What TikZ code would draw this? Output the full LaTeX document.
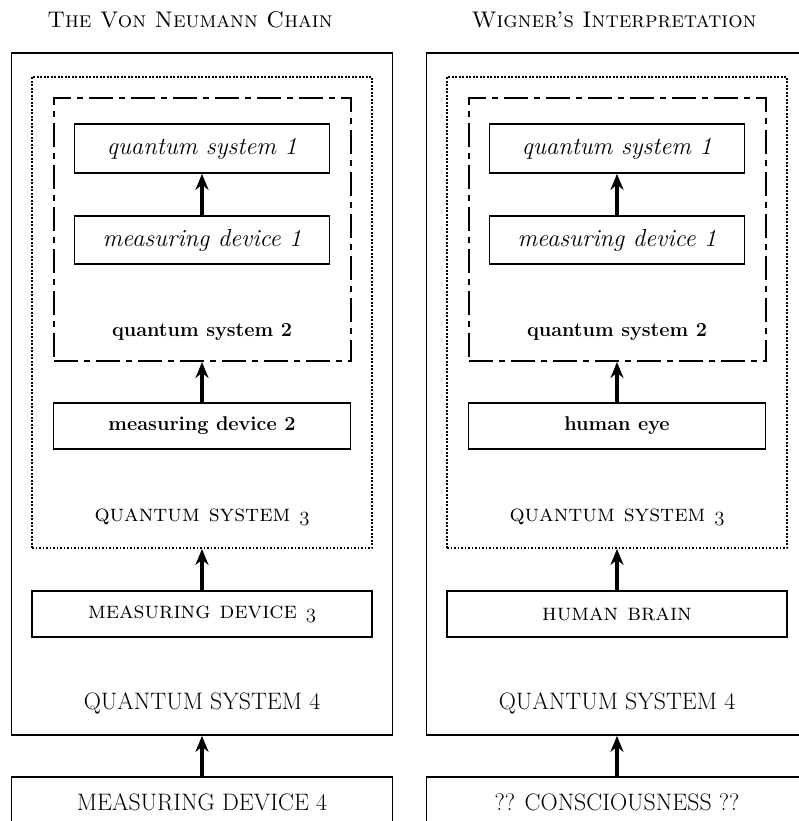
\documentclass[tikz,border=0pt]{standalone}
\usepackage{fontspec}
\usetikzlibrary{arrows.meta}

\newcommand{\oldthree}{{\fontsize{20}{24}\selectfont$\mathnormal{3}$}}

\tikzset{
  qbox/.style={draw, line width=1.7pt, inner sep=0pt},
  dashbox/.style={draw, line width=2pt, dash pattern=on 24pt off 6pt on 6pt off 6pt, inner sep=0pt},
  dotbox/.style={draw, line width=1.8pt, dash pattern=on 1.6pt off 1.9pt, inner sep=0pt},
  rise/.style={-{Stealth[length=16pt, width=13pt]}, line width=3.6pt},
  titlelabel/.style={font=\fontsize{22.6}{27}\selectfont\scshape, anchor=base},
  itlabel/.style={font=\fontsize{24.6}{28}\selectfont\itshape},
  bflabel/.style={font=\fontsize{19.9}{24}\selectfont\bfseries},
  sclabel/.style={font=\fontsize{23.8}{28}\selectfont\scshape},
  caplabel/.style={font=\fontsize{23.8}{28}\selectfont},
}

\begin{document}
\begin{tikzpicture}[x=1pt, y=-1pt]
    \useasboundingbox (0, 0) rectangle (798, 821);

    % titles
    \node[titlelabel] (ltitle) at (190, 28) {The Von Neumann Chain};
    \node[titlelabel] (rtitle) at (614, 28) {Wigner's Interpretation};

    % left: the chain
    \node[qbox, minimum width=381, minimum height=682] (lqs4) at (202, 394) {};
    \node[dotbox, minimum width=340, minimum height=471] (lqs3) at (202, 312.5) {};
    \node[dashbox, minimum width=297, minimum height=263] (lqs2) at (202, 229.5) {};
    \node[qbox, itlabel, minimum width=255, minimum height=49] (lqs1) at (202, 148.5) {quantum system 1};
    \node[qbox, itlabel, minimum width=255, minimum height=48] (lmd1) at (202, 240) {measuring device 1};
    \node[bflabel] (lqs2text) at (202, 332) {quantum system 2};
    \node[qbox, bflabel, minimum width=297, minimum height=46] (lmd2) at (202, 426) {measuring device 2};
    \node[sclabel] (lqs3text) at (202, 517) {quantum system \oldthree};
    \node[qbox, sclabel, minimum width=340, minimum height=46] (lmd3) at (202, 614) {measuring device \oldthree};
    \node[caplabel] (lqs4text) at (202, 703) {QUANTUM SYSTEM 4};
    \node[qbox, caplabel, minimum width=381, minimum height=50] (lmd4) at (202, 802) {MEASURING DEVICE 4};

    \draw[rise] (lmd1) -- (lqs1);
    \draw[rise] (lmd2) -- (lqs2);
    \draw[rise] (lmd3) -- (lqs3);
    \draw[rise] (lmd4) -- (lqs4);

    % right: wigner
    \node[qbox, minimum width=381, minimum height=682] (rqs4) at (617, 394) {};
    \node[dotbox, minimum width=340, minimum height=471] (rqs3) at (617, 312.5) {};
    \node[dashbox, minimum width=297, minimum height=263] (rqs2) at (617, 229.5) {};
    \node[qbox, itlabel, minimum width=255, minimum height=49] (rqs1) at (617, 148.5) {quantum system 1};
    \node[qbox, itlabel, minimum width=255, minimum height=48] (rmd1) at (617, 240) {measuring device 1};
    \node[bflabel] (rqs2text) at (617, 332) {quantum system 2};
    \node[qbox, bflabel, minimum width=297, minimum height=46] (reye) at (617, 426) {human eye};
    \node[sclabel] (rqs3text) at (617, 517) {quantum system \oldthree};
    \node[qbox, sclabel, minimum width=340, minimum height=46] (rbrain) at (617, 614) {human brain};
    \node[caplabel] (rqs4text) at (617, 703) {QUANTUM SYSTEM 4};
    \node[qbox, caplabel, minimum width=381, minimum height=50] (rmind) at (617, 802) {?? CONSCIOUSNESS ??};

    \draw[rise] (rmd1) -- (rqs1);
    \draw[rise] (reye) -- (rqs2);
    \draw[rise] (rbrain) -- (rqs3);
    \draw[rise] (rmind) -- (rqs4);
\end{tikzpicture}
\end{document}
